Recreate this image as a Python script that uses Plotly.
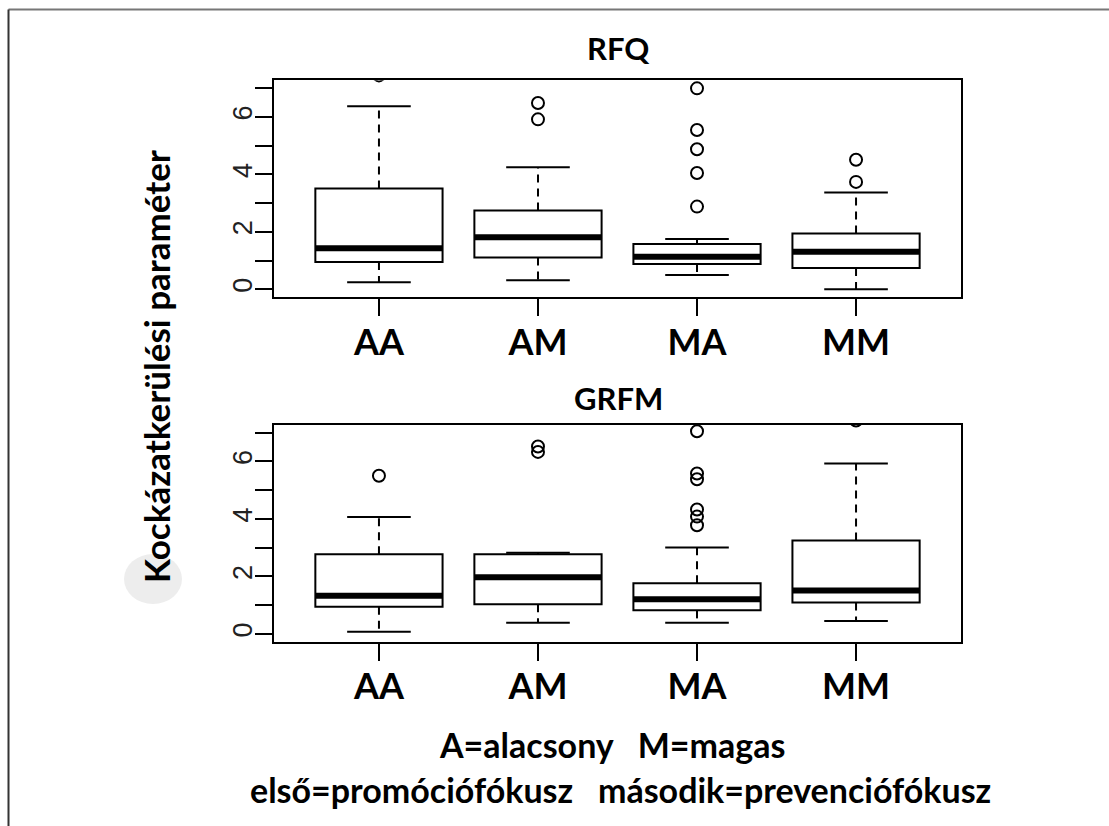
import numpy as np
import plotly.graph_objects as go

# ---------------- data ----------------
categories = ["AA", "AM", "MA", "MM"]

rfq_lower = [0.24, 0.31, 0.50, 0.00]
rfq_q1 = [0.95, 1.11, 0.88, 0.74]
rfq_median = [1.43, 1.81, 1.13, 1.31]
rfq_q3 = [3.51, 2.74, 1.58, 1.94]
rfq_upper = [6.38, 4.25, 1.75, 3.37]
rfq_outliers = [[7.45], [6.49, 5.92], [7.00, 5.55, 4.88, 4.05, 2.88], [4.51, 3.74]]

grfm_lower = [0.08, 0.39, 0.39, 0.45]
grfm_q1 = [0.95, 1.03, 0.82, 1.09]
grfm_median = [1.33, 1.97, 1.21, 1.51]
grfm_q3 = [2.77, 2.77, 1.76, 3.25]
grfm_upper = [4.07, 2.82, 3.01, 5.93]
grfm_outliers = [[5.50], [6.52, 6.33], [7.05, 5.58, 5.38, 4.33, 4.08, 3.78], [7.42]]

y_tick_values = [0, 1, 2, 3, 4, 5, 6, 7]
y_tick_labels = ["0", "", "2", "", "4", "", "6", ""]

panel_titles = ["RFQ", "GRFM"]
y_title = "Kockázatkerülési paraméter"
note_line1 = "A=alacsony\u00a0\u00a0\u00a0M=magas"
note_line2 = "első=promóciófókusz\u00a0\u00a0\u00a0második=prevenciófókusz"

# ---------------- style / layout constants ----------------
W, H = 1109, 826
BOX_W = 0.8
CAP_HALF = 0.2
TEXT_FONT = "Lato"
NUM_FONT = "Liberation Sans"


def px_x(x):
    return x / W


def px_y(y):
    return 1 - y / H


pos = np.arange(len(categories))

fig = go.Figure()


def add_panel(lower, q1, med, q3, upper, outliers, xa, ya):
    fig.add_trace(go.Box(
        x=pos, q1=q1, median=med, q3=q3, lowerfence=q1, upperfence=q3,
        width=BOX_W, whiskerwidth=0, boxpoints=False,
        fillcolor="white", line=dict(color="black", width=2),
        xaxis=xa, yaxis=ya, showlegend=False, hoverinfo="skip"))
    # dashed whiskers
    wx, wy = [], []
    for i in pos:
        wx += [i, i, None, i, i, None]
        wy += [q3[i], upper[i], None, q1[i], lower[i], None]
    fig.add_trace(go.Scatter(x=wx, y=wy, mode="lines",
                             line=dict(color="black", width=2, dash="8px,6px"),
                             xaxis=xa, yaxis=ya, showlegend=False, hoverinfo="skip"))
    # staples
    cx, cy = [], []
    for i in pos:
        cx += [i - CAP_HALF, i + CAP_HALF, None, i - CAP_HALF, i + CAP_HALF, None]
        cy += [upper[i], upper[i], None, lower[i], lower[i], None]
    fig.add_trace(go.Scatter(x=cx, y=cy, mode="lines",
                             line=dict(color="black", width=2),
                             xaxis=xa, yaxis=ya, showlegend=False, hoverinfo="skip"))
    # thick medians
    mx, my = [], []
    for i in pos:
        mx += [i - BOX_W / 2, i + BOX_W / 2, None]
        my += [med[i], med[i], None]
    fig.add_trace(go.Scatter(x=mx, y=my, mode="lines",
                             line=dict(color="black", width=6),
                             xaxis=xa, yaxis=ya, showlegend=False, hoverinfo="skip"))
    # outliers
    ox, oy = [], []
    for i in pos:
        ox += [i] * len(outliers[i])
        oy += outliers[i]
    fig.add_trace(go.Scatter(x=ox, y=oy, mode="markers",
                             marker=dict(symbol="circle-open", size=12, color="black",
                                         line=dict(width=2, color="black")),
                             xaxis=xa, yaxis=ya, showlegend=False, hoverinfo="skip"))


add_panel(rfq_lower, rfq_q1, rfq_median, rfq_q3, rfq_upper, rfq_outliers, "x", "y")
add_panel(grfm_lower, grfm_q1, grfm_median, grfm_q3, grfm_upper, grfm_outliers, "x2", "y2")

x_dom = [px_x(274), px_x(961)]
top_dom = [px_y(297.3), px_y(80.3)]
bot_dom = [px_y(642), px_y(424.6)]

xaxis_common = dict(
    domain=x_dom, range=[-0.66, 3.66], tickmode="array", tickvals=pos, ticktext=categories,
    ticks="outside", ticklen=17, tickwidth=2, tickcolor="black", ticklabelstandoff=-5,
    showline=True, mirror=True, linecolor="black", linewidth=2,
    showgrid=False, zeroline=False, automargin=False, fixedrange=True,
    tickfont=dict(family=TEXT_FONT, size=36, color="black", weight="bold"),
)
yaxis_common = dict(
    range=[-0.28, 7.28], tickmode="array", tickvals=y_tick_values, ticktext=y_tick_labels,
    ticks="outside", ticklen=17, tickwidth=2, tickcolor="black", tickangle=-90,
    ticklabelstandoff=-8,
    showline=True, mirror=True, linecolor="black", linewidth=2,
    showgrid=False, zeroline=False, automargin=False, fixedrange=True,
    tickfont=dict(family=NUM_FONT, size=27, color="#222"),
)

fig.update_layout(
    width=W, height=H,
    margin=dict(l=0, r=0, t=0, b=0),
    paper_bgcolor="white", plot_bgcolor="white",
    showlegend=False,
    xaxis=dict(**xaxis_common, anchor="y"),
    yaxis=dict(**yaxis_common, domain=top_dom, anchor="x"),
    xaxis2=dict(**xaxis_common, anchor="y2"),
    yaxis2=dict(**yaxis_common, domain=bot_dom, anchor="x2"),
)

title_font = dict(family=TEXT_FONT, size=31, color="black", weight="bold")
big_font = dict(family=TEXT_FONT, size=35, color="black", weight="bold")
note_font = dict(family=TEXT_FONT, size=34, color="black", weight="bold")
ann = [
    dict(text=panel_titles[0], x=px_x(618), y=px_y(48), xref="paper", yref="paper",
         showarrow=False, xanchor="center", yanchor="middle", font=title_font),
    dict(text=panel_titles[1], x=px_x(618), y=px_y(398), xref="paper", yref="paper",
         showarrow=False, xanchor="center", yanchor="middle", font=title_font),
    dict(text=y_title, x=px_x(156), y=px_y(367), xref="paper", yref="paper",
         showarrow=False, xanchor="center", yanchor="middle", textangle=-90, font=big_font),
    dict(text=note_line1, x=px_x(612), y=px_y(744), xref="paper", yref="paper",
         showarrow=False, xanchor="center", yanchor="middle", font=note_font),
    dict(text=note_line2, x=px_x(620), y=px_y(789), xref="paper", yref="paper",
         showarrow=False, xanchor="center", yanchor="middle", font=note_font),
]
fig.update_layout(annotations=ann)

shapes = [
    dict(type="circle", xref="paper", yref="paper", layer="below",
         x0=px_x(124), x1=px_x(182), y0=px_y(604), y1=px_y(554),
         fillcolor="#ededed", line=dict(width=0)),
    dict(type="line", xref="paper", yref="paper",
         x0=px_x(8.5), x1=1.0, y0=px_y(9.5), y1=px_y(9.5),
         line=dict(color="#777777", width=2)),
    dict(type="line", xref="paper", yref="paper",
         x0=px_x(8.5), x1=px_x(8.5), y0=0.0, y1=px_y(9.5),
         line=dict(color="#333333", width=2)),
]
fig.update_layout(shapes=shapes)

fig.write_html("out.html")
